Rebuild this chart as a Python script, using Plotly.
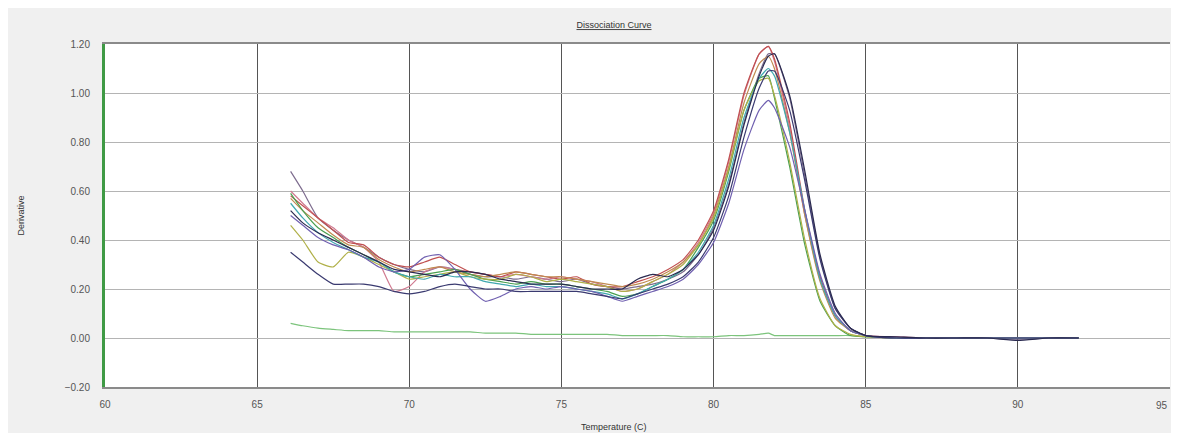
import plotly.graph_objects as go

# Temperature samples (deg C)
temps = [66.1, 66.5, 67, 67.5, 68, 68.5, 69, 69.5, 70, 70.5, 71, 71.5, 72, 72.5, 73, 73.5,
         74, 74.5, 75, 75.5, 76, 76.5, 77, 77.5, 78, 78.5, 79, 79.5, 80, 80.5, 81, 81.5,
         81.8, 82, 82.5, 83, 83.5, 84, 84.5, 85, 86, 87, 88, 89, 90, 91, 92]

well_grey = [0.68, 0.60, 0.49, 0.44, 0.40, 0.37, 0.33, 0.30, 0.28, 0.27, 0.29, 0.28, 0.26, 0.25, 0.25, 0.24,
             0.25, 0.24, 0.23, 0.24, 0.22, 0.21, 0.20, 0.21, 0.22, 0.24, 0.27, 0.34, 0.45, 0.63, 0.88, 1.08,
             1.16, 1.16, 0.98, 0.66, 0.33, 0.12, 0.04, 0.01, 0.005, 0.0, 0.0, 0.0, -0.005, 0.0, 0.0]
well_pink = [0.60, 0.55, 0.49, 0.45, 0.40, 0.37, 0.31, 0.19, 0.21, 0.27, 0.29, 0.28, 0.27, 0.26, 0.25, 0.26,
             0.25, 0.24, 0.25, 0.24, 0.23, 0.21, 0.19, 0.20, 0.23, 0.26, 0.31, 0.39, 0.51, 0.72, 0.99, 1.16,
             1.19, 1.13, 0.86, 0.50, 0.24, 0.09, 0.03, 0.01, 0.005, 0.0, 0.0, 0.0, 0.0, 0.0, 0.0]
well_red = [0.58, 0.54, 0.49, 0.44, 0.39, 0.38, 0.33, 0.30, 0.29, 0.31, 0.33, 0.30, 0.27, 0.26, 0.25, 0.27,
            0.26, 0.25, 0.24, 0.25, 0.22, 0.21, 0.21, 0.23, 0.25, 0.28, 0.32, 0.40, 0.52, 0.73, 1.00, 1.16,
            1.19, 1.14, 0.88, 0.52, 0.25, 0.09, 0.03, 0.01, 0.0, 0.0, 0.0, 0.0, 0.0, 0.0, 0.0]
well_brown = [0.57, 0.52, 0.47, 0.42, 0.38, 0.37, 0.32, 0.29, 0.27, 0.28, 0.29, 0.27, 0.26, 0.25, 0.26, 0.27,
              0.26, 0.25, 0.25, 0.24, 0.23, 0.22, 0.21, 0.22, 0.24, 0.27, 0.31, 0.38, 0.50, 0.70, 0.96, 1.12,
              1.15, 1.10, 0.84, 0.50, 0.23, 0.08, 0.03, 0.01, 0.0, 0.0, 0.0, 0.0, 0.0, 0.0, 0.0]
well_green = [0.59, 0.52, 0.45, 0.41, 0.37, 0.34, 0.31, 0.27, 0.25, 0.26, 0.27, 0.28, 0.26, 0.24, 0.23, 0.22,
              0.23, 0.22, 0.22, 0.21, 0.20, 0.19, 0.17, 0.18, 0.21, 0.24, 0.28, 0.37, 0.48, 0.68, 0.93, 1.06,
              1.07, 0.98, 0.70, 0.38, 0.15, 0.05, 0.01, 0.005, 0.0, 0.0, 0.0, 0.0, 0.0, 0.0, 0.0]
well_olive = [0.46, 0.40, 0.31, 0.29, 0.35, 0.33, 0.30, 0.27, 0.24, 0.25, 0.26, 0.27, 0.25, 0.24, 0.24, 0.26,
              0.25, 0.23, 0.24, 0.23, 0.22, 0.21, 0.19, 0.20, 0.23, 0.26, 0.30, 0.38, 0.49, 0.69, 0.93, 1.05,
              1.06, 0.99, 0.72, 0.40, 0.16, 0.05, 0.015, 0.005, 0.0, 0.0, 0.0, 0.0, 0.0, 0.0, 0.0]
well_teal = [0.55, 0.49, 0.43, 0.39, 0.36, 0.33, 0.31, 0.27, 0.25, 0.24, 0.26, 0.25, 0.25, 0.23, 0.22, 0.21,
             0.22, 0.21, 0.21, 0.20, 0.19, 0.18, 0.16, 0.18, 0.21, 0.24, 0.28, 0.35, 0.46, 0.65, 0.90, 1.06,
             1.10, 1.07, 0.84, 0.52, 0.24, 0.09, 0.03, 0.01, 0.0, 0.0, 0.0, 0.0, 0.0, 0.0, 0.0]
well_navy = [0.52, 0.47, 0.43, 0.40, 0.37, 0.34, 0.31, 0.28, 0.27, 0.26, 0.25, 0.27, 0.27, 0.26, 0.24, 0.23,
             0.22, 0.22, 0.22, 0.21, 0.20, 0.20, 0.20, 0.24, 0.26, 0.25, 0.28, 0.34, 0.44, 0.62, 0.87, 1.07,
             1.15, 1.16, 0.99, 0.68, 0.34, 0.13, 0.04, 0.01, 0.005, 0.0, 0.0, 0.0, -0.01, 0.0, 0.0]
well_dark = [0.35, 0.31, 0.26, 0.22, 0.22, 0.22, 0.21, 0.19, 0.18, 0.19, 0.21, 0.22, 0.21, 0.20, 0.20, 0.19,
             0.19, 0.19, 0.19, 0.19, 0.18, 0.17, 0.16, 0.18, 0.20, 0.22, 0.25, 0.31, 0.41, 0.58, 0.82, 1.02,
             1.09, 1.09, 0.93, 0.64, 0.32, 0.12, 0.04, 0.01, 0.0, 0.0, 0.0, 0.0, 0.0, 0.0, 0.0]
well_purple = [0.50, 0.46, 0.41, 0.38, 0.36, 0.33, 0.29, 0.27, 0.28, 0.33, 0.34, 0.28, 0.20, 0.15, 0.17, 0.20,
               0.21, 0.20, 0.21, 0.20, 0.19, 0.17, 0.15, 0.17, 0.19, 0.21, 0.24, 0.30, 0.39, 0.55, 0.77, 0.93,
               0.97, 0.94, 0.78, 0.52, 0.26, 0.10, 0.03, 0.01, 0.0, 0.0, 0.0, 0.0, 0.0, 0.0, 0.0]
ntc = [0.06, 0.05, 0.04, 0.035, 0.03, 0.03, 0.03, 0.025, 0.025, 0.025, 0.025, 0.025, 0.025, 0.02, 0.02, 0.02,
       0.015, 0.015, 0.015, 0.015, 0.015, 0.015, 0.01, 0.01, 0.01, 0.01, 0.005, 0.005, 0.005, 0.01, 0.01, 0.015,
       0.02, 0.01, 0.01, 0.01, 0.01, 0.01, 0.01, 0.005, 0.0, 0.0, 0.0, 0.0, 0.0, 0.0, 0.0]

series = [
    ("NTC", ntc, "#7cc47c"),
    ("Well 1", well_grey, "#7d6c8e"),
    ("Well 2", well_pink, "#d07a90"),
    ("Well 3", well_red, "#c05050"),
    ("Well 4", well_brown, "#c08a50"),
    ("Well 5", well_green, "#4aa050"),
    ("Well 6", well_olive, "#b0b048"),
    ("Well 7", well_teal, "#40a8b0"),
    ("Well 8", well_purple, "#7060b0"),
    ("Well 9", well_dark, "#3a3a70"),
    ("Well 10", well_navy, "#2a2a50"),
]

fig = go.Figure()
for name, vals, col in series:
    fig.add_trace(go.Scatter(x=temps, y=vals, mode="lines", name=name,
                             line=dict(color=col, width=1.2, shape="spline", smoothing=0.5)))

W, H = 1163, 425
L, R, T, B = 97, 1, 36, 46
ph = H - T - B
pw = W - L - R
font_fam = "Liberation Sans, Arial, sans-serif"
fig.update_layout(
    width=W, height=H,
    margin=dict(l=L, r=R, t=T, b=B),
    paper_bgcolor="#f0f0f0", plot_bgcolor="#ffffff",
    showlegend=False,
    font=dict(family=font_fam, size=10, color="#555555"),
    title=dict(text="<u>Dissociation Curve</u>", x=606 / W, xanchor="center",
               y=1 - 17 / H, yanchor="middle", font=dict(size=9, color="#333333")),
)
fig.update_xaxes(range=[60, 95], tickvals=[60, 65, 70, 75, 80, 85, 90, 95],
                 showgrid=True, gridcolor="#555555", gridwidth=1,
                 showline=True, linecolor="#8a8a8a", linewidth=2, mirror=True,
                 zeroline=False, ticks="", ticklabelstandoff=7,
                 tickfont=dict(size=10, color="#555555"))
fig.update_yaxes(range=[-0.2, 1.2], tickvals=[-0.2, 0, 0.2, 0.4, 0.6, 0.8, 1.0, 1.2],
                 tickformat=".2f",
                 showgrid=True, gridcolor="#b4b4b4", gridwidth=1,
                 showline=True, linecolor="#3f9a45", linewidth=3,
                 zeroline=False, ticks="", ticklabelstandoff=10,
                 tickfont=dict(size=10, color="#555555"))
# last x tick label sits at the page edge; draw it right-aligned so it stays visible
fig.add_annotation(text="95", xref="paper", yref="paper", x=1.0, y=-18 / ph,
                   xanchor="right", yanchor="middle", showarrow=False,
                   font=dict(size=10, color="#555555"))
fig.add_annotation(text="Temperature (C)", xref="paper", yref="paper", x=(606 - L) / pw,
                   y=-40 / ph, xanchor="center", yanchor="middle", showarrow=False,
                   font=dict(size=9, color="#333333"))
fig.add_annotation(text="Derivative", xref="paper", yref="paper", x=(12 - L) / pw,
                   y=0.5, xanchor="center", yanchor="middle", showarrow=False,
                   textangle=-90, font=dict(size=9, color="#333333"))

fig.write_html("out.html")
